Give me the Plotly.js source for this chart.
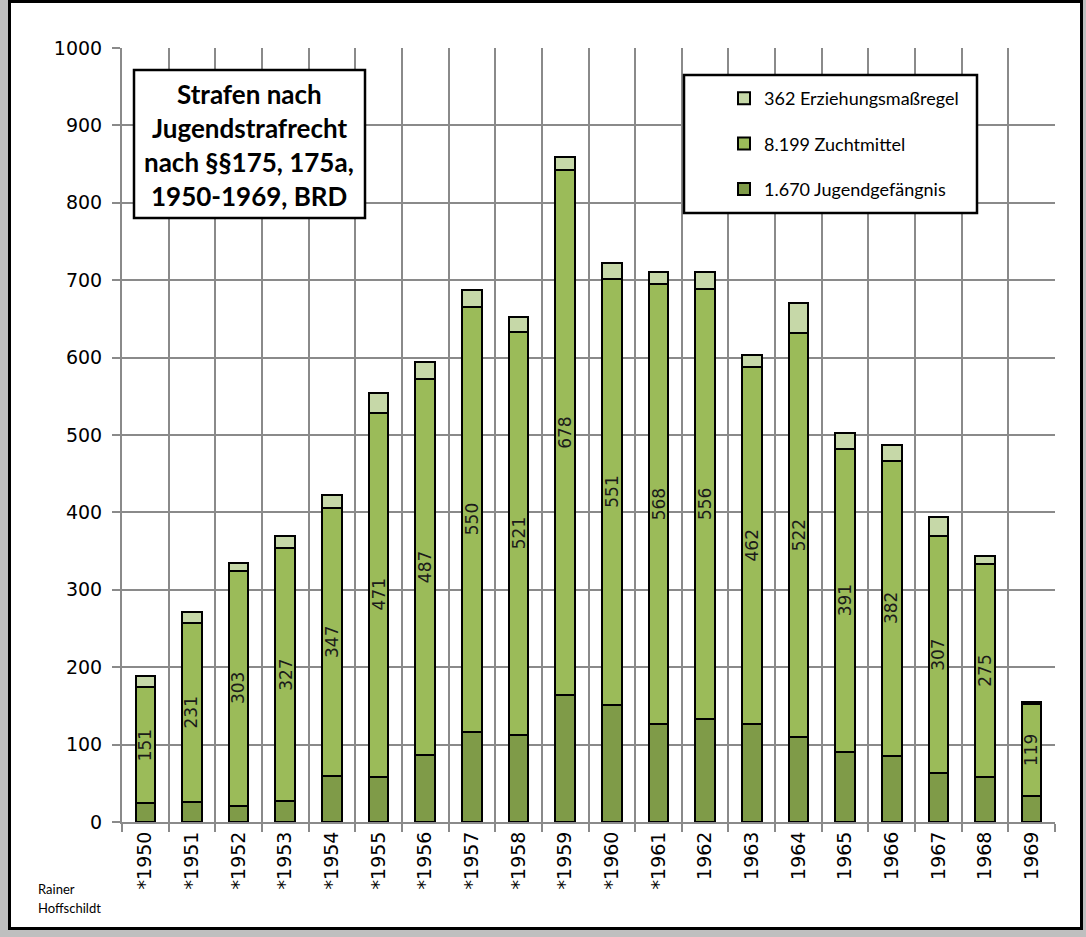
<!DOCTYPE html>
<html>
<head>
<meta charset="utf-8">
<script src="https://cdn.plot.ly/plotly-3.0.1.min.js"></script>
<style>
  html, body { margin: 0; padding: 0; background: #bfbfbf; width: 1086px; height: 937px; overflow: hidden; }
  #frame { position: absolute; left: 8px; top: 0px; width: 1075px; height: 930px; border: 3px solid #000; box-sizing: border-box; background: #fff; }
  #chart { width: 1069px; height: 924px; }
</style>
</head>
<body>
<div id="frame"><div id="chart"></div></div>
<script>
// ---- data ----
const years = ["1950","1951","1952","1953","1954","1955","1956","1957","1958","1959",
               "1960","1961","1962","1963","1964","1965","1966","1967","1968","1969"];
const yearLabels = ["*1950","*1951","*1952","*1953","*1954","*1955","*1956","*1957","*1958","*1959",
                    "*1960","*1961","1962","1963","1964","1965","1966","1967","1968","1969"];
const jugendgefaengnis = [24,26,21,27,59,58,86,116,112,164,151,127,133,126,110,91,85,63,58,33];
const zuchtmittel = [151,231,303,327,347,471,487,550,521,678,551,568,556,462,522,391,382,307,275,119];
const erziehung = [13,14,11,16,16,25,21,21,19,17,20,16,21,16,38,20,20,24,11,3];
const seriesNames = ["1.670 Jugendgefängnis","8.199 Zuchtmittel","362 Erziehungsmaßregel"];
const titleLines = ["Strafen nach","Jugendstrafrecht","nach §§175, 175a,","1950-1969, BRD"];
const yTicks = [0,100,200,300,400,500,600,700,800,900,1000];

// ---- geometry helpers (page pixel -> paper) ----
const PL = 122, PR = 1055, PT = 48, PB = 822;
const px = p => (p - PL) / (PR - PL);
const py = p => (PB - p) / (PB - PT);

const cDark = '#7f9b48', cMid = '#9bbb59', cLight = '#c6d8a8';
const barLine = {color: '#000', width: 2};
const BW = 0.42;

const traces = [
  {type: 'bar', name: seriesNames[0], x: years, y: jugendgefaengnis,
   marker: {color: cDark, line: barLine}, width: BW, legendgroup: 'a', legendrank: 3, hoverinfo: 'y'},
  {type: 'bar', name: seriesNames[1], x: years, y: zuchtmittel,
   marker: {color: cMid, line: barLine}, width: BW, legendgroup: 'b', legendrank: 2, hoverinfo: 'y'},
  {type: 'bar', name: seriesNames[2], x: years, y: erziehung,
   marker: {color: cLight, line: barLine}, width: BW, legendgroup: 'c', legendrank: 1, hoverinfo: 'y'}
];

// value labels inside the Zuchtmittel segment, from the data (x as category index)
const annotations = years.map((yr, i) => ({
  xref: 'x', yref: 'y', x: i, y: jugendgefaengnis[i] + zuchtmittel[i] / 2,
  text: String(zuchtmittel[i]), showarrow: false, textangle: -90,
  xanchor: 'center', yanchor: 'middle',
  font: {family: 'DejaVu Sans', size: 17, color: '#1a1a1a'}
}));

titleLines.forEach((t, i) => annotations.push({
  xref: 'paper', yref: 'paper', x: px(249), y: py([94,128,162,196][i]),
  xanchor: 'center', yanchor: 'middle', showarrow: false, text: '<b>' + t + '</b>',
  font: {family: 'Lato', size: 26, color: '#000'}
}));
annotations.push({xref: 'paper', yref: 'paper', x: px(36), y: py(889), xanchor: 'left', yanchor: 'middle',
  showarrow: false, text: 'Rainer', font: {family: 'Lato', size: 13, color: '#000'}});
annotations.push({xref: 'paper', yref: 'paper', x: px(36), y: py(908), xanchor: 'left', yanchor: 'middle',
  showarrow: false, text: 'Hoffschildt', font: {family: 'Lato', size: 13, color: '#000'}});

const shapes = [
  {type: 'rect', xref: 'paper', yref: 'paper', x0: px(134), x1: px(365), y0: py(218), y1: py(70),
   fillcolor: '#fff', line: {color: '#000', width: 2.5}, layer: 'above'},
  {type: 'rect', xref: 'paper', yref: 'paper', x0: px(684), x1: px(977), y0: py(213), y1: py(75),
   fillcolor: '#fff', line: {color: '#000', width: 2.5}, layer: 'above'}
];

const layout = {
  width: 1069, height: 924,
  margin: {l: 111, r: 25, t: 45, b: 105},
  paper_bgcolor: '#fff', plot_bgcolor: '#fff',
  barmode: 'stack',
  showlegend: true,
  legend: {x: px(724), y: py(80), xanchor: 'left', yanchor: 'top',
           traceorder: 'grouped', tracegroupgap: 19,
           bgcolor: 'rgba(0,0,0,0)', borderwidth: 0,
           font: {family: 'Lato', size: 18, color: '#000'}},
  xaxis: {type: 'category', tickmode: 'array', tickvals: years, ticktext: yearLabels,
          tickson: 'boundaries', ticks: 'outside', ticklen: 8, tickcolor: '#8a8a8a', tickwidth: 2,
          tickangle: -90, tickfont: {family: 'DejaVu Sans', size: 19, color: '#000'},
          showgrid: true, gridcolor: '#8a8a8a', gridwidth: 2,
          showline: true, linecolor: '#8a8a8a', linewidth: 2, range: [-0.5, 19.5], fixedrange: true},
  yaxis: {range: [0, 1000], tickmode: 'array', tickvals: yTicks, ticks: 'outside', ticklen: 8,
          tickcolor: '#8a8a8a', tickwidth: 2, ticklabelstandoff: 6,
          tickfont: {family: 'DejaVu Sans', size: 19, color: '#000'},
          showgrid: true, gridcolor: '#8a8a8a', gridwidth: 2, zeroline: false,
          showline: true, linecolor: '#8a8a8a', linewidth: 2, fixedrange: true},
  annotations: annotations,
  shapes: shapes
};

Plotly.newPlot('chart', traces, layout, {displayModeBar: false, staticPlot: true});
</script>
</body>
</html>
